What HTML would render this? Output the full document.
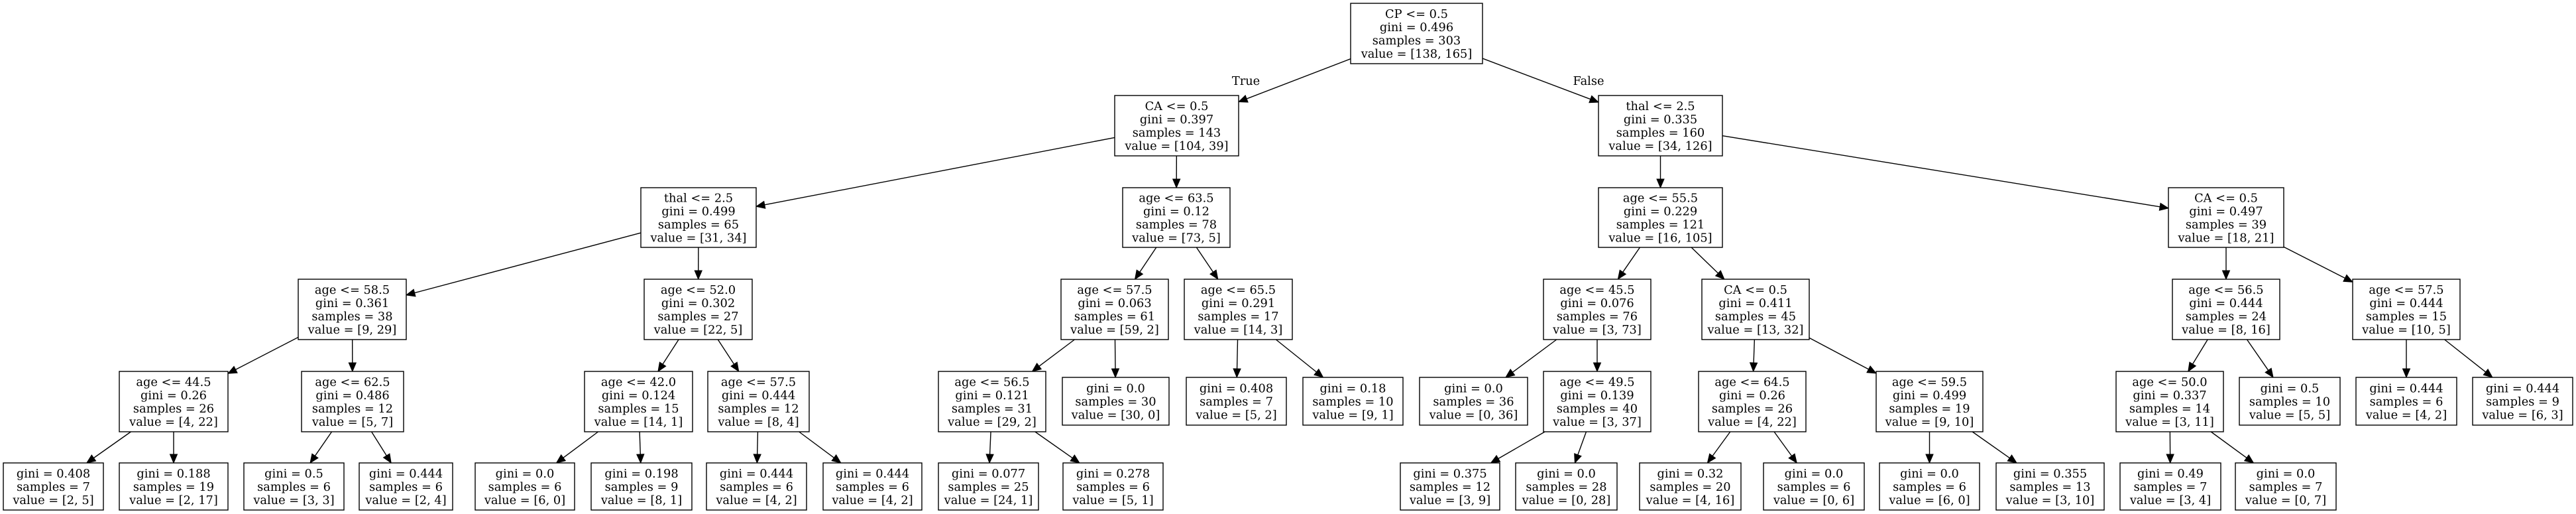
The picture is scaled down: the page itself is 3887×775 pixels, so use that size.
<!DOCTYPE html>
<html><head><meta charset="utf-8"><style>
html,body{margin:0;padding:0;background:#fff;}
svg{display:block;}
text{font-family:"DejaVu Serif","Liberation Serif",serif;font-size:17.8px;fill:#000;}
</style></head><body>
<svg id="s" xmlns="http://www.w3.org/2000/svg" width="3887" height="775" viewBox="0 0 3887 775">
<rect width="3887" height="775" fill="#fff"/>
<text x="1880" y="128" text-anchor="middle">True</text>
<text x="2397" y="128" text-anchor="middle">False</text>
</svg>
<script>
var L=[[5,96],[144,235],[283,373],[421,512],[560,651],[698,769]];
var LF4=[569,641];
function n(t,x1,x2,lv,p,leaf){return {t:t,x1:x1,x2:x2,lv:lv,p:p,leaf:leaf};}
function s(a,g,sm,v){return ["" + a,"gini = "+g,"samples = "+sm,"value = ["+v+"]"];}
function lf(g,sm,v){return ["gini = "+g,"samples = "+sm,"value = ["+v+"]"];}
var N=[
n(s("CP &lt;= 0.5","0.496","303","138, 165"),2038,2237,0,-1),
n(s("CA &lt;= 0.5","0.397","143","104, 39"),1682,1869,1,0),
n(s("thal &lt;= 2.5","0.335","160","34, 126"),2412,2599,1,0),
n(s("thal &lt;= 2.5","0.499","65","31, 34"),967,1141,2,1),
n(s("age &lt;= 63.5","0.12","78","73, 5"),1694,1856,2,1),
n(s("age &lt;= 55.5","0.229","121","16, 105"),2412,2599,2,2),
n(s("CA &lt;= 0.5","0.497","39","18, 21"),3272,3446,2,2),
n(s("age &lt;= 58.5","0.361","38","9, 29"),450,613,3,3),
n(s("age &lt;= 52.0","0.302","27","22, 5"),972,1135,3,3),
n(s("age &lt;= 57.5","0.063","61","59, 2"),1601,1763,3,4),
n(s("age &lt;= 65.5","0.291","17","14, 3"),1787,1950,3,4),
n(s("age &lt;= 45.5","0.076","76","3, 73"),2329,2491,3,5),
n(s("CA &lt;= 0.5","0.411","45","13, 32"),2568,2730,3,5),
n(s("age &lt;= 56.5","0.444","24","8, 16"),3278,3440,3,6),
n(s("age &lt;= 57.5","0.444","15","10, 5"),3550,3712,3,6),
n(s("age &lt;= 44.5","0.26","26","4, 22"),180,344,4,7),
n(s("age &lt;= 62.5","0.486","12","5, 7"),455,609,4,7),
n(s("age &lt;= 42.0","0.124","15","14, 1"),882,1045,4,8),
n(s("age &lt;= 57.5","0.444","12","8, 4"),1068,1221,4,8),
n(s("age &lt;= 56.5","0.121","31","29, 2"),1416,1578,4,9),
n(lf("0.0","30","30, 0"),1603,1764,4,9,1),
n(lf("0.408","7","5, 2"),1790,1941,4,10,1),
n(lf("0.18","10","9, 1"),1966,2117,4,10,1),
n(lf("0.0","36","0, 36"),2142,2305,4,11,1),
n(s("age &lt;= 49.5","0.139","40","3, 37"),2329,2491,4,11),
n(s("age &lt;= 64.5","0.26","26","4, 22"),2563,2725,4,12),
n(s("age &lt;= 59.5","0.499","19","9, 10"),2831,2992,4,12),
n(s("age &lt;= 50.0","0.337","14","3, 11"),3193,3355,4,13),
n(lf("0.5","10","5, 5"),3379,3531,4,13,1),
n(lf("0.444","6","4, 2"),3555,3707,4,14,1),
n(lf("0.444","9","6, 3"),3731,3882,4,14,1),
n(lf("0.408","7","2, 5"),5,156,5,15,1),
n(lf("0.188","19","2, 17"),180,344,5,15,1),
n(lf("0.5","6","3, 3"),368,519,5,16,1),
n(lf("0.444","6","2, 4"),542,683,5,16,1),
n(lf("0.0","6","6, 0"),717,867,5,17,1),
n(lf("0.198","9","8, 1"),892,1044,5,17,1),
n(lf("0.444","6","4, 2"),1066,1217,5,18,1),
n(lf("0.444","6","4, 2"),1242,1391,5,18,1),
n(lf("0.077","25","24, 1"),1416,1567,5,19,1),
n(lf("0.278","6","5, 1"),1604,1755,5,19,1),
n(lf("0.375","12","3, 9"),2113,2263,5,24,1),
n(lf("0.0","28","0, 28"),2287,2440,5,24,1),
n(lf("0.32","20","4, 16"),2474,2627,5,25,1),
n(lf("0.0","6","0, 6"),2661,2813,5,25,1),
n(lf("0.0","6","6, 0"),2836,2987,5,26,1),
n(lf("0.355","13","3, 10"),3012,3175,5,26,1),
n(lf("0.49","7","3, 4"),3199,3351,5,27,1),
n(lf("0.0","7","0, 7"),3373,3525,5,27,1)
];
N.forEach(function(d){
  var y=L[d.lv]; if(d.leaf&&d.lv==4) y=LF4;
  d.y1=y[0]; d.y2=y[1]; d.cx=(d.x1+d.x2)/2; d.cy=(d.y1+d.y2)/2;
  d.hw=(d.x2-d.x1)/2; d.hh=(d.y2-d.y1)/2;
});
var h='';
function clip(d,dx,dy){var tx=dx?d.hw/Math.abs(dx):1e9,ty=dy?d.hh/Math.abs(dy):1e9;return Math.min(tx,ty);}
N.forEach(function(d){
  if(d.p<0) return; var p=N[d.p];
  var dx=d.cx-p.cx, dy=d.cy-p.cy;
  var t0=clip(p,dx,dy), t1=1-clip(d,dx,dy);
  var sx=p.cx+dx*t0, sy=p.cy+dy*t0, ex=p.cx+dx*t1, ey=p.cy+dy*t1;
  var len=Math.sqrt(dx*dx+dy*dy), ux=dx/len, uy=dy/len, A=13, W=5.5;
  var bx=ex-ux*A, by=ey-uy*A;
  h+='<line x1="'+sx+'" y1="'+sy+'" x2="'+bx+'" y2="'+by+'" stroke="#000" stroke-width="1.4"/>';
  h+='<polygon points="'+ex+','+ey+' '+(bx-uy*W)+','+(by+ux*W)+' '+(bx+uy*W)+','+(by-ux*W)+'" fill="#000" stroke="#000" stroke-width="1"/>';
});
N.forEach(function(d){
  h+='<rect x="'+d.x1+'" y="'+d.y1+'" width="'+(d.x2-d.x1)+'" height="'+(d.y2-d.y1)+'" fill="#fff" stroke="#000" stroke-width="1.4"/>';
  var k=d.t.length;
  for(var i=0;i<k;i++){
    var yy=d.cy+(i-(k-1)/2)*20+6.5;
    h+='<text x="'+d.cx+'" y="'+yy+'" text-anchor="middle">'+d.t[i]+'</text>';
  }
});
document.getElementById('s').insertAdjacentHTML('beforeend',h);
</script>
</body></html>
